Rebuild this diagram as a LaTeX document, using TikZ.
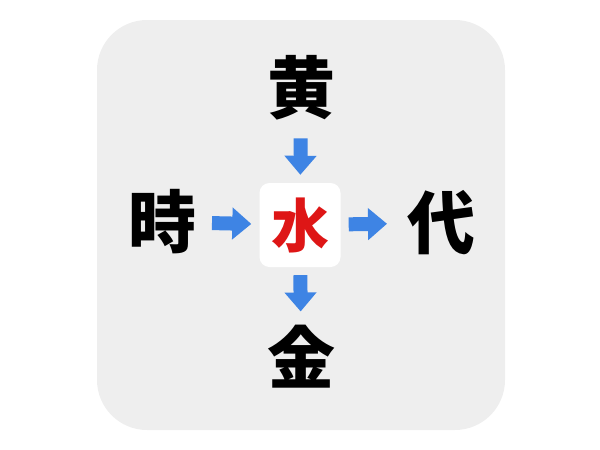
\documentclass[tikz,border=0pt]{standalone}
\usepackage{fontspec}
\newfontfamily\cjk{Noto Sans CJK JP}
\usetikzlibrary{arrows.meta}
\definecolor{panelgray}{RGB}{238,238,238}
\definecolor{arrowblue}{RGB}{62,132,228}
\definecolor{answerred}{RGB}{222,22,22}
\tikzset{
  kanji/.style={inner sep=0pt, outer sep=0pt, font=\cjk\bfseries\fontsize{68}{68}\selectfont},
  answer/.style={fill=white, rounded corners=10pt, minimum width=81pt, minimum height=84pt,
    inner sep=0pt, text=answerred, font=\cjk\bfseries\fontsize{58}{58}\selectfont},
  flow/.style={arrowblue, line width=14pt, -{Triangle[width=31pt,length=19pt]}}
}
\begin{document}
\begin{tikzpicture}[x=1pt,y=-1pt]
\useasboundingbox (0,0) rectangle (600,450);
% panel
\fill[panelgray, rounded corners=50pt] (97,20) rectangle (505,430);

% words round the middle
\node[kanji] (top) at (301,88) {黄};
\node[kanji] (left) at (162,222) {時};
\node[kanji] (right) at (441,223) {代};
\node[kanji] (bottom) at (301,357) {金};

% the hidden character
\node[answer] (mid) at (300,225) {水};

% arrows
\draw[flow, shorten <=18pt, shorten >=8pt] (top) -- (mid);
\draw[flow, shorten <=16pt, shorten >=8pt] (left) -- (mid);
\draw[flow, shorten <=8pt, shorten >=20pt] (mid) -- (right);
\draw[flow, shorten <=8pt, shorten >=14pt] (mid) -- (bottom);
\end{tikzpicture}
\end{document}
